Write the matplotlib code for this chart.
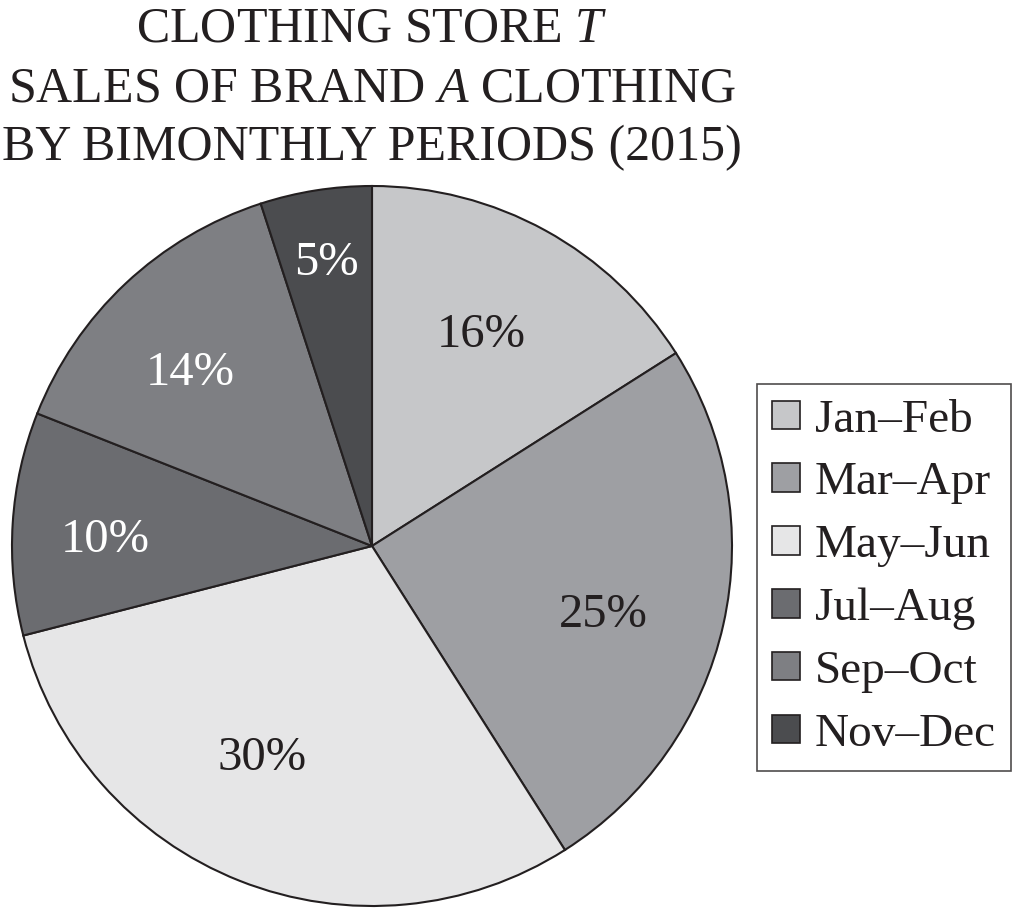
import numpy as np
import matplotlib
matplotlib.use("Agg")
import matplotlib.pyplot as plt
from matplotlib.patches import Patch

plt.rcParams["font.family"] = ["Liberation Serif", "DejaVu Serif"]
plt.rcParams["mathtext.fontset"] = "custom"
plt.rcParams["mathtext.rm"] = "Liberation Serif"
plt.rcParams["mathtext.it"] = "Liberation Serif:italic"

# Bimonthly share of Brand A sales (percent)
periods = ["Jan\u2013Feb", "Mar\u2013Apr", "May\u2013Jun", "Jul\u2013Aug", "Sep\u2013Oct", "Nov\u2013Dec"]
shares = [16, 25, 30, 10, 14, 5]
colors = ["#c6c7c9", "#9e9fa3", "#e6e6e7", "#6b6c70", "#7e7f83", "#4b4c4f"]
label_colors = ["#231f20", "#231f20", "#231f20", "white", "white", "white"]

# label placement inside each wedge: radius fraction and angular nudge (deg)
label_radius = [0.672, 0.666, 0.65, 0.742, 0.707, 0.81]
label_nudge = [2.0, -2.9, -6.4, 1.2, 2.4, 0.0]

ink = "#231f20"
W, H = 1016, 908
fig = plt.figure(figsize=(W / 100, H / 100), dpi=100)
fig.patch.set_facecolor("white")

# pie axes: circle centred at (372, 546) px with radius 360 px
cx, cy, r = 372, 546, 360
ax = fig.add_axes([(cx - r) / W, (H - cy - r) / H, 2 * r / W, 2 * r / H])
wedges, _ = ax.pie(shares, colors=colors, startangle=90, counterclock=False,
                   radius=1.0,
                   wedgeprops=dict(edgecolor=ink, linewidth=1.5))
for w in wedges:
    w.set_clip_on(False)
ax.set_xlim(-1, 1)
ax.set_ylim(-1, 1)
ax.set_aspect("equal")
ax.axis("off")

for w, val, rf, nd, tc in zip(wedges, shares, label_radius, label_nudge, label_colors):
    ang = np.deg2rad((w.theta1 + w.theta2) / 2 + nd)
    ax.text(rf * np.cos(ang), rf * np.sin(ang), f"{val}%",
            ha="center", va="center_baseline", fontsize=35, color=tc)

# three-line title
title_lines = [r"CLOTHING STORE $\mathit{T}$",
               r"SALES OF BRAND $\mathit{A}$ CLOTHING",
               "BY BIMONTHLY PERIODS (2015)"]
baselines = [42, 102, 160]
for line, yb in zip(title_lines, baselines):
    fig.text(cx / W, 1 - yb / H, line, ha="center", va="baseline",
             fontsize=36, color=ink)

handles = [Patch(facecolor=c, edgecolor=ink, linewidth=1.2) for c in colors]
leg = fig.legend(handles, periods, loc="upper left",
                 bbox_to_anchor=(757 / W, 1 - 384 / H), borderaxespad=0,
                 fontsize=34, frameon=True, fancybox=False,
                 handlelength=0.6, handleheight=0.55, handletextpad=0.3,
                 labelspacing=0.43, borderpad=0.32)
for t in leg.get_texts():
    t.set_color(ink)
frame = leg.get_frame()
frame.set_edgecolor(ink)
frame.set_linewidth(1.2)

fig.savefig("out.png", dpi=100, facecolor="white")
